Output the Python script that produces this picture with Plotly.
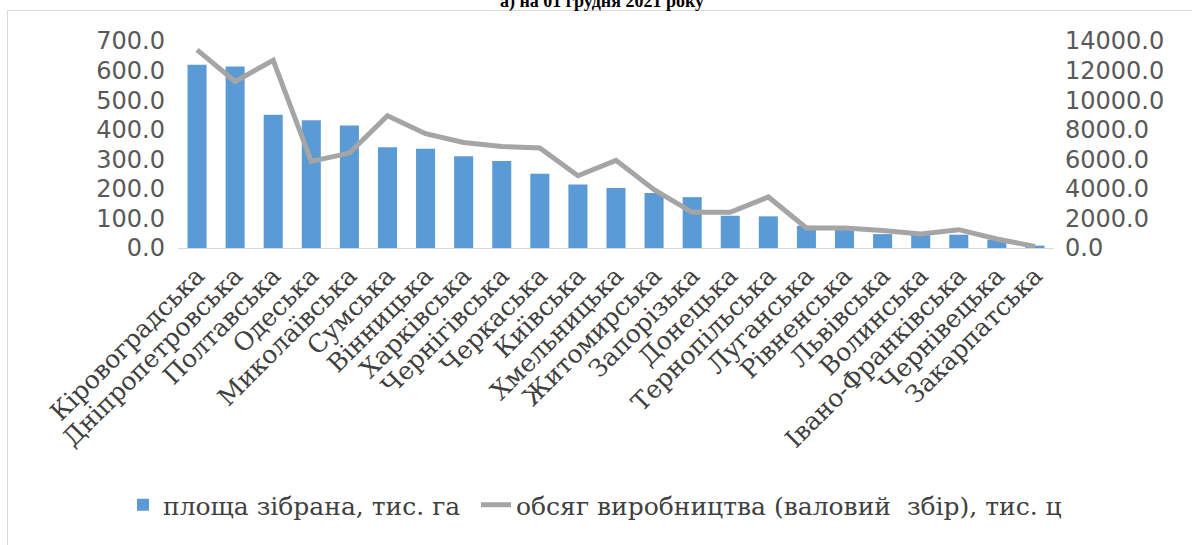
import plotly.graph_objects as go

regions = ["Кіровоградська", "Дніпропетровська", "Полтавська", "Одеська", "Миколаївська",
           "Сумська", "Вінницька", "Харківська", "Чернігівська", "Черкаська", "Київська",
           "Хмельницька", "Житомирська", "Запорізька", "Донецька", "Тернопільська",
           "Луганська", "Рівненська", "Львівська", "Волинська", "Івано-Франківська",
           "Чернівецька", "Закарпатська"]
area = [620, 614, 451, 432, 414, 341, 336, 310, 294, 251, 215, 203, 186, 172, 109, 107,
        75, 62, 47, 45, 45, 28, 8]
output = [13400, 11270, 12690, 5860, 6420, 8950, 7730, 7140, 6870, 6760, 4890, 5930,
          3940, 2410, 2410, 3450, 1350, 1350, 1190, 950, 1240, 610, 110]

bar_name = "площа зібрана, тис. га"
line_name = "обсяг виробництва (валовий  збір), тис. ц"
title_text = "а) на 01 грудня 2021 року"

W, H = 1192, 545
L, R, T, B = 178, 138, 41, 297
pw, ph = W - L - R, H - T - B

def px_x(p):
    return (p - L) / pw

def px_y(p):
    return (H - B - p) / ph

fig = go.Figure()
fig.add_trace(go.Bar(x=regions, y=area, name=bar_name, marker_color="#5b9bd5",
                     marker_line_width=0, yaxis="y", legendwidth=308))
fig.add_trace(go.Scatter(x=regions, y=output, name=line_name, mode="lines",
                         line=dict(color="#a5a5a5", width=5), yaxis="y2"))

tick_font = dict(family="DejaVu Sans", size=24, color="#595959")
serif = "DejaVu Serif"
fig.update_layout(
    width=W, height=H,
    margin=dict(l=L, r=R, t=T, b=B, autoexpand=False),
    paper_bgcolor="white", plot_bgcolor="white",
    bargap=0.5,
    showlegend=True,
    legend=dict(orientation="h", x=px_x(123), xanchor="left", y=px_y(505), yanchor="middle",
                font=dict(family=serif, size=25, color="#404040"),
                itemwidth=30, traceorder="normal"),
    xaxis=dict(showgrid=False, showline=True, linecolor="#d9d9d9", linewidth=1,
               tickangle=-45, automargin=False, ticklabelstandoff=2,
               tickfont=dict(family=serif, size=25, color="#404040")),
    yaxis=dict(range=[0, 700], dtick=100, tickformat=".1f", showgrid=False, zeroline=False,
               showline=False, automargin=False, tickfont=tick_font, ticklabelstandoff=12),
    yaxis2=dict(range=[0, 14000], dtick=2000, tickformat=".1f", overlaying="y", side="right",
                showgrid=False, zeroline=False, showline=False, automargin=False,
                tickfont=tick_font, ticklabelstandoff=10),
    shapes=[dict(type="rect", xref="paper", yref="paper",
                 x0=px_x(7.5), x1=px_x(1250), y0=px_y(600), y1=px_y(10.5),
                 line=dict(color="#d9d9d9", width=1), fillcolor="rgba(0,0,0,0)", layer="below")],
    annotations=[dict(text="<b>" + title_text + "</b>", xref="paper", yref="paper",
                      x=px_x(602), y=px_y(1.5), xanchor="center", yanchor="middle",
                      showarrow=False,
                      font=dict(family="Liberation Serif", size=18, color="black"))],
)

fig.write_html("out.html")
